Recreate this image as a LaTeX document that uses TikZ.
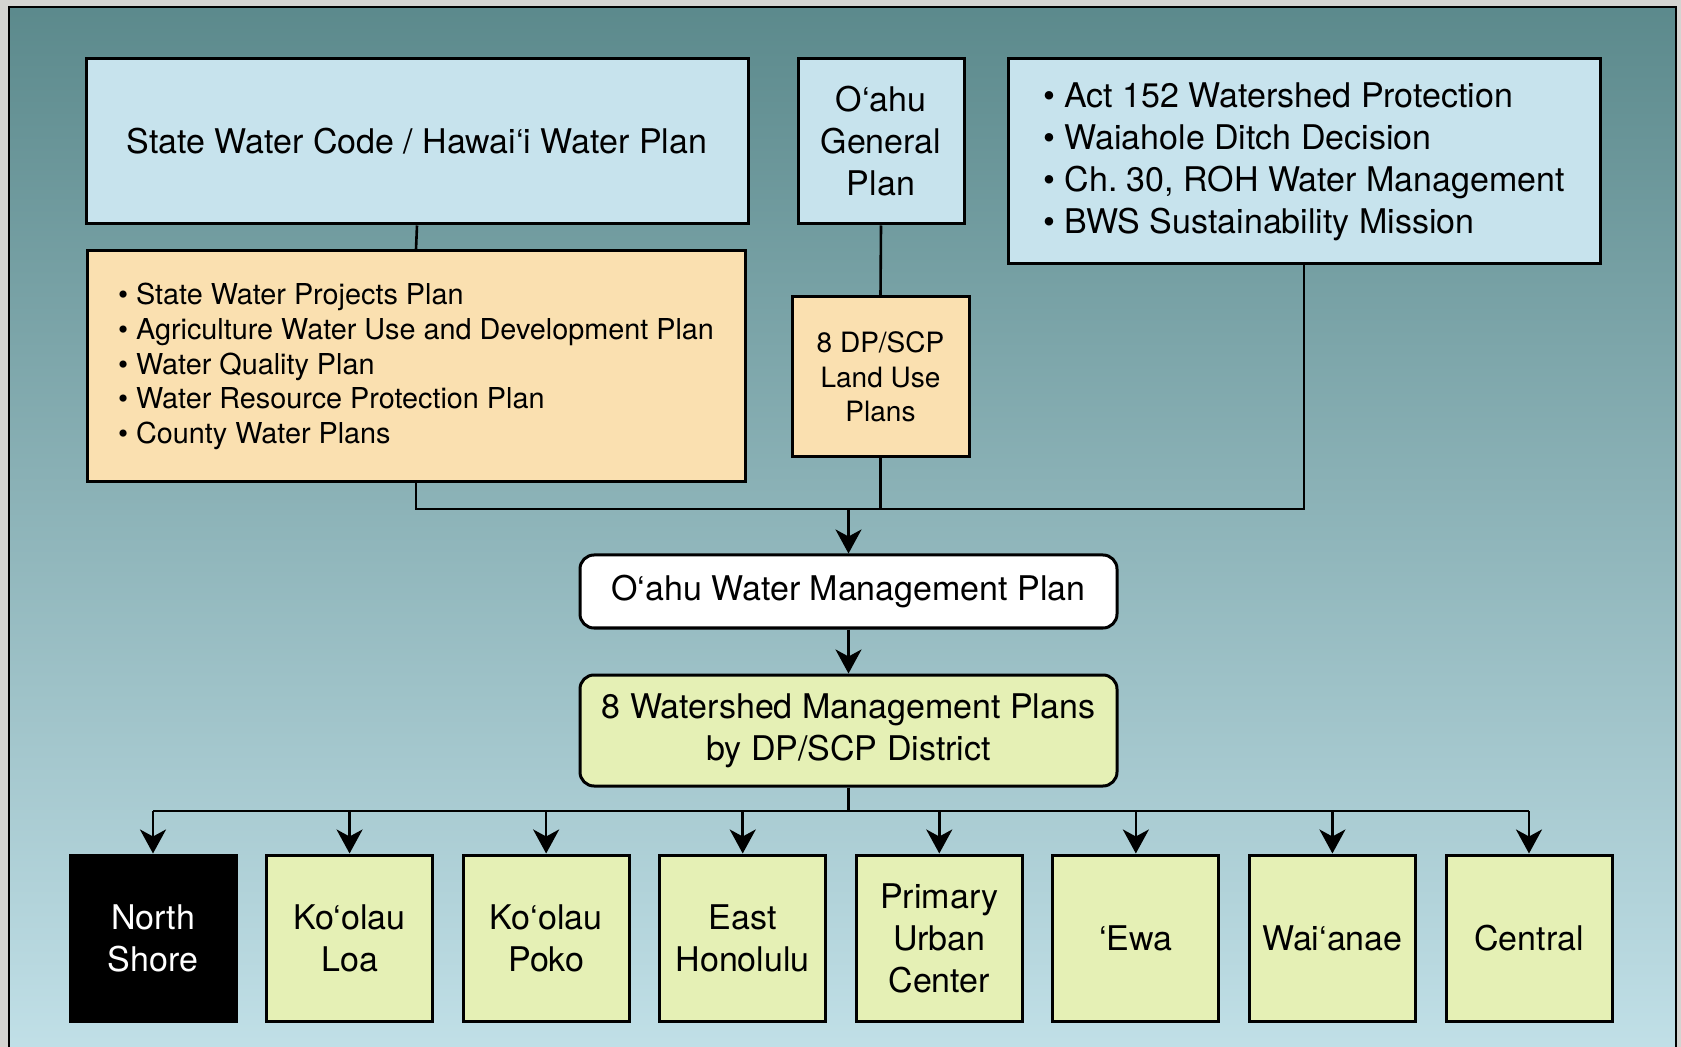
\documentclass[tikz,border=0pt]{standalone}
\usepackage{fontspec}
\setmainfont{TeX Gyre Heros}
\usetikzlibrary{arrows.meta}
\definecolor{color1}{rgb}{0.36, 0.54, 0.55}
\definecolor{color2}{rgb}{0.76, 0.88, 0.91}
\definecolor{color3}{rgb}{0.78, 0.89, 0.93}
\definecolor{color4}{rgb}{0.98, 0.88, 0.69}
\definecolor{color5}{rgb}{0.90, 0.94, 0.71}
\definecolor{color6}{rgb}{0.83, 0.83, 0.82}
\frenchspacing
\tikzset{
  box/.style = {draw, line width = 1.5pt, inner sep = 0pt, align = center, font = \fontsize{17}{21}\selectfont},
  bluebox/.style = {box, fill = color3},
  tanbox/.style = {box, fill = color4},
  greenbox/.style = {box, fill = color5, minimum width = 83pt, minimum height = 83pt},
  darkbox/.style = {greenbox, fill = black, text = white},
  roundbox/.style = {box, rounded corners = 7pt, minimum width = 268.5pt},
  link/.style = {line width = 1.3pt},
  arr/.style = {link, -{Stealth[length = 12pt, width = 13pt, inset = 3.5pt]}}
}

\begin{document}
\begin{tikzpicture}[x = 0.5pt, y = -0.5pt]

\fill [color6] (0, 0) rectangle (1681, 1047);
\useasboundingbox (0, 0) rectangle (1681, 1047);
\shade [top color = color1, bottom color = color2, draw = black, line width = 1pt] (9, 7) rectangle (1676, 1060);

\node [bluebox, minimum width = 331pt, minimum height = 82.5pt] (swc) at (417, 141.5) {State Water Code / Hawai‘i Water Plan};
\node [bluebox, minimum width = 83pt, minimum height = 82.5pt] (ogp) at (881, 141.5) {O‘ahu\\General\\Plan};
\node [bluebox, align = left, minimum width = 296pt, minimum height = 102.5pt] (acts) at (1304, 161.5) {\textbullet\ Act 152 Watershed Protection\\\textbullet\ Waiahole Ditch Decision\\\textbullet\ Ch. 30, ROH Water Management\\\textbullet\ BWS Sustainability Mission};
\node [tanbox, align = left, minimum width = 329pt, minimum height = 115.5pt, font = \fontsize{14.4}{17.3}\selectfont] (plans) at (416, 366.5) {\textbullet\ State Water Projects Plan\\\textbullet\ Agriculture Water Use and Development Plan\\\textbullet\ Water Quality Plan\\\textbullet\ Water Resource Protection Plan\\\textbullet\ County Water Plans};
\node [tanbox, minimum width = 88.5pt, minimum height = 80pt, font = \fontsize{14}{17.2}\selectfont] (landuse) at (880.5, 377) {8 DP/SCP\\Land Use\\Plans};
\node [roundbox, fill = white, minimum height = 36.5pt] (owmp) at (848.5, 591.5) {O‘ahu Water Management Plan};
\node [roundbox, fill = color5, minimum height = 55.5pt] (wmp) at (848.5, 730.5) {8 Watershed Management Plans\\by DP/SCP District};

\foreach \i/\lbl/\sty in {1/{North\\Shore}/darkbox, 2/{Ko‘olau\\Loa}/greenbox, 3/{Ko‘olau\\Poko}/greenbox, 4/{East\\Honolulu}/greenbox, 5/{Primary\\Urban\\Center}/greenbox, 6/{‘Ewa}/greenbox, 7/{Wai‘anae}/greenbox, 8/{Central}/greenbox}
  \node [\sty] (d\i) at ({153 + (\i - 1) * 196.57}, 938) {\lbl};

\coordinate (jtop) at (848.5, 509);
\coordinate (jbot) at (848.5, 811);

\draw [link] (swc.south) -- (plans.north);
\draw [link] (ogp.south) -- (landuse.north);
\draw [link] (plans.south) |- (jtop);
\draw [link] (acts.south) |- (jtop);
\draw [link] (landuse.south) -- (landuse.south |- jtop);
\draw [arr] (jtop) -- (owmp.north);
\draw [arr] (owmp.south) -- (wmp.north);
\draw [link] (wmp.south) -- (jbot);
\draw [link] (d1.north |- jbot) -- (d8.north |- jbot);
\foreach \i in {1, ..., 8}
  \draw [arr] (d\i.north |- jbot) -- (d\i.north);

\end{tikzpicture}
\end{document}
